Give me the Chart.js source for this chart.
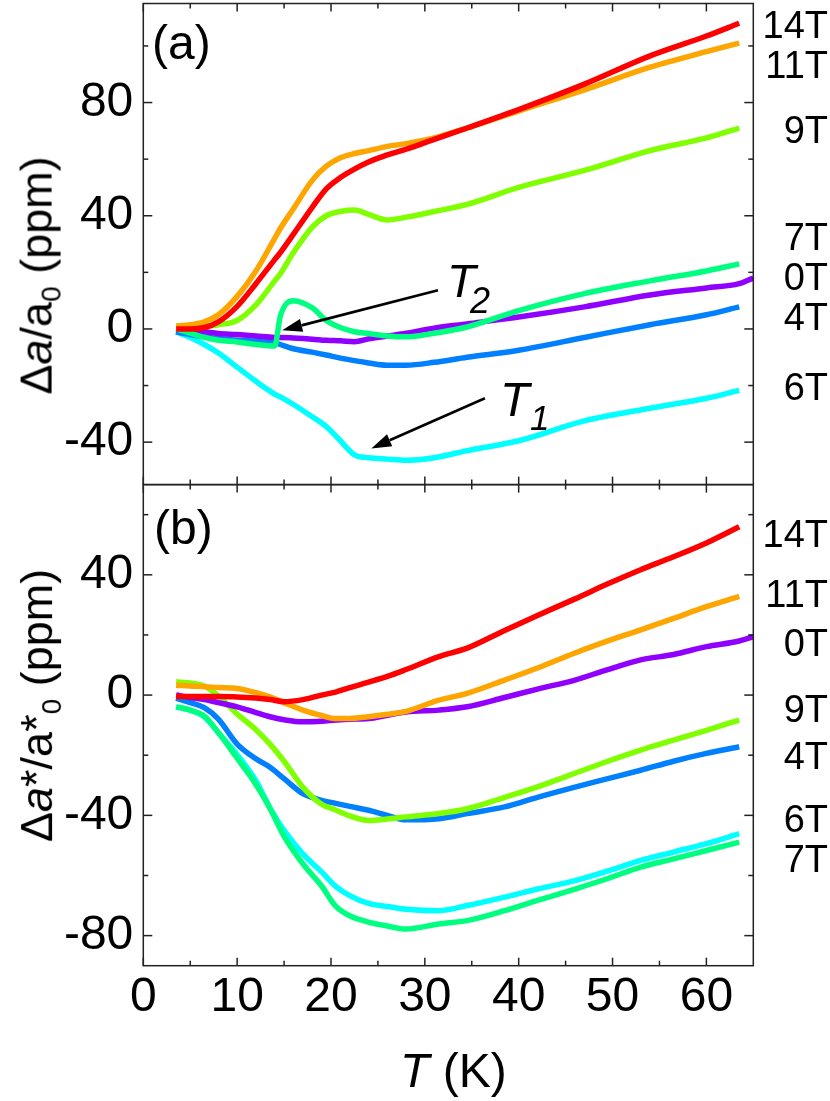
<!DOCTYPE html>
<html><head><meta charset="utf-8">
<script src="https://cdn.jsdelivr.net/npm/chart.js@4.4.0/dist/chart.umd.min.js"></script>
<style>
html,body{margin:0;padding:0;background:#fff;}
#wrap{position:relative;width:830px;height:1101px;overflow:hidden;font-family:'Liberation Sans',Arial,sans-serif;color:#000;}
#c{position:absolute;left:0;top:0;}
.t{position:absolute;white-space:nowrap;line-height:1;}
</style></head><body>
<div id="wrap"><canvas id="c" width="830" height="1101"></canvas></div>
<script>
// ---------- data: panel (a)  Δa/a0 (ppm) vs T (K) ----------
const tA  = [3.5, 5, 6.5, 8, 10, 12, 14, 14.6, 16, 18, 19.5, 21, 22.5, 24, 26, 28, 31, 34.5, 40, 47, 54, 60, 63.5, 65];
const a14 = [0, 0, 0.5, 2.5, 8, 16, 24.5, 27, 33.5, 43, 49.5, 53.5, 56.5, 59, 61.5, 63.5, 67, 71, 77.5, 86.5, 96.5, 103.5, 108, null];
const a11 = [1, 1.5, 2.5, 5, 11.5, 20.5, 32, 35.5, 42.5, 52.5, 57.5, 60.5, 62, 63, 64.5, 65.5, 67.5, 71, 77, 84.5, 92.5, 98, 101, null];
const a9  = [1, 1, 1, 1.5, 3, 8.5, 17, 19.5, 27, 36, 40, 41.5, 42, 40.5, 38.5, 39.5, 41.5, 44, 50, 56, 63, 67.5, 71, null];
const a7  = [0, -1.5, -3, -4, -4.6, -5.5, -6, 4.5, 10, 7.5, 3, 0.5, -1, -1.6, -2.5, -2.8, -1.5, 0.7, 6.5, 12.5, 17, 20.5, 23, null];
const a0  = [0, -0.5, -1, -1.6, -2, -2.5, -3, -3, -3.2, -3.6, -4, -4.2, -4.5, -3.5, -2.5, -1.5, 0.3, 1.8, 4.2, 7.8, 12, 14.5, 16, 18];
const a4  = [-1, -2, -2.8, -3.4, -4, -4.3, -4.8, -5.5, -7, -8.2, -9.2, -10.3, -11.2, -12, -12.8, -12.8, -11.8, -10, -7.5, -3, 1.5, 5, 7.8, null];
const a6  = [-1, -3, -5.5, -8.5, -13.5, -18.5, -23, -24, -26.7, -31, -34.5, -39.5, -44.5, -45.5, -46, -46.4, -45.5, -43, -39.5, -32.5, -28, -24.5, -21.7, null];

// ---------- data: panel (b)  Δa*/a*0 (ppm) vs T (K) ----------
const tB  = [3.5, 5, 6.5, 8, 10, 12, 13.5, 15, 17, 19, 20.5, 22, 24, 26, 28, 31.5, 34.5, 38.5, 42, 46, 49.5, 53, 56.5, 60, 63.5, 65];
const b14 = [-0.5, -0.5, -0.5, -0.5, -0.6, -1, -1.5, -2.2, -1.5, 0, 1, 2.5, 4.3, 6.2, 8.5, 12.8, 15.6, 21.5, 26.5, 32, 37, 41.7, 46, 50.6, 56, null];
const b11 = [3.3, 3, 2.8, 2.5, 2.2, 0.8, -0.6, -2.5, -5, -6.8, -7.8, -7.8, -7.2, -6.4, -5.4, -1.7, 0.6, 5, 9, 14, 18, 21.7, 25.5, 29.4, 32.8, null];
const b0  = [0, -0.8, -1.5, -2.5, -3.9, -5.8, -7.2, -8.2, -8.9, -8.7, -8.3, -8, -7.8, -6.7, -5.6, -5, -3.9, -0.8, 2, 5, 8.5, 11.7, 13.5, 16.1, 18, 19.4];
const b9  = [4.4, 4, 3, -0.3, -6.3, -11.5, -16.3, -22, -30.6, -36.3, -38.2, -40.2, -41.7, -41.2, -40.5, -39.4, -37.8, -34, -30.5, -26, -22, -18.3, -15, -11.7, -8.3, null];
const b4  = [-1, -2.5, -4.2, -8, -16.3, -21.2, -24, -27.8, -32.8, -35, -36, -37, -38.3, -40, -41.5, -41.1, -39.4, -37.2, -34, -30.6, -27.8, -25, -22, -19.4, -17.2, null];
const b6  = [-3.9, -5, -7.2, -12.5, -19.8, -28.5, -37.5, -45, -52.8, -58.8, -63.6, -66.7, -69.3, -70.3, -71.2, -71.7, -70, -67.2, -64.5, -61.7, -58.5, -55, -52.2, -49.4, -46.1, null];
const b7  = [-3.9, -5, -7, -12.5, -21, -29.7, -37.7, -47, -56.1, -63.5, -70.2, -73.4, -75.5, -76.8, -77.8, -76.1, -75, -71.7, -68.3, -64.5, -61, -57.2, -54.5, -51.7, -48.9, null];

// ---------- ticks ----------
const xTickValues  = [0, 10, 20, 30, 40, 50, 60];
const yaTickValues = [-40, 0, 40, 80];
const ybTickValues = [-80, -40, 0, 40];
const xMinorValues  = [5, 15, 25, 35, 45, 55];
const yaMinorValues = [-20, 20, 60, 100];
const ybMinorValues = [-60, -20, 20, 60];

// labels of the field series (draw order: first = on top)
const fieldsA = ['14T', '11T', '9T', '7T', '0T', '4T', '6T'];
const fieldsB = ['14T', '11T', '0T', '9T', '4T', '7T', '6T'];
const seriesA = {'14T': a14, '11T': a11, '9T': a9, '7T': a7, '0T': a0, '4T': a4, '6T': a6};
const seriesB = {'14T': b14, '11T': b11, '9T': b9, '7T': b7, '0T': b0, '4T': b4, '6T': b6};

// annotation arrows (data units: [T, ppm]) on panel (a)
const arrowT2 = {from: [31.4, 13.7], to: [14.8, -0.5]};
const arrowT1 = {from: [36.4, -24.5], to: [24.3, -42.2]};

// ---------- styles ----------
const FONT = "'Liberation Sans', Arial, sans-serif";
const fieldColor = {'0T': '#8f00ff', '4T': '#0080ff', '6T': '#00ffff', '7T': '#00ff80', '9T': '#80ff00', '11T': '#ffa500', '14T': '#ff0000'};

function makeSets(fields, temps, series, axisId) {
  return fields.map(f => ({
    label: f,
    data: temps.map((t, i) => ({x: t, y: series[f][i]})),
    yAxisID: axisId,
    borderColor: fieldColor[f],
    backgroundColor: fieldColor[f],
    borderWidth: 5.5,
    pointRadius: 0,
    cubicInterpolationMode: 'monotone',
    fill: false,
    spanGaps: false
  }));
}

const framePlugin = {
  id: 'frames',
  afterDatasetsDraw(chart) {
    const ctx = chart.ctx;
    const xs = chart.scales.x;
    const L = chart.chartArea.left, R = chart.chartArea.right;
    ctx.save();
    ctx.strokeStyle = '#222';
    ctx.lineWidth = 1.5;
    const seg = (x1, y1, x2, y2) => { ctx.beginPath(); ctx.moveTo(x1, y1); ctx.lineTo(x2, y2); ctx.stroke(); };
    [['ya', yaTickValues, yaMinorValues], ['yb', ybTickValues, ybMinorValues]].forEach(([id, major, minor]) => {
      const ys = chart.scales[id];
      const T = ys.top, B = ys.bottom;
      ctx.strokeRect(L, T, R - L, B - T);
      xTickValues.forEach(v => { const p = xs.getPixelForValue(v); seg(p, B, p, B - 8); seg(p, T, p, T + 8); });
      xMinorValues.forEach(v => { const p = xs.getPixelForValue(v); seg(p, B, p, B - 5); seg(p, T, p, T + 5); });
      major.forEach(v => { const p = ys.getPixelForValue(v); seg(L, p, L + 9, p); seg(R, p, R - 9, p); });
      minor.forEach(v => { const p = ys.getPixelForValue(v); seg(L, p, L + 5, p); seg(R, p, R - 5, p); });
    });
    // arrows
    const ya = chart.scales.ya;
    [arrowT2, arrowT1].forEach(a => {
      const x1 = xs.getPixelForValue(a.from[0]), y1 = ya.getPixelForValue(a.from[1]);
      const x2 = xs.getPixelForValue(a.to[0]), y2 = ya.getPixelForValue(a.to[1]);
      const ang = Math.atan2(y2 - y1, x2 - x1);
      const hl = 20, hw = 6.5;
      const bx = x2 - hl * Math.cos(ang), by = y2 - hl * Math.sin(ang);
      ctx.strokeStyle = '#000'; ctx.fillStyle = '#000'; ctx.lineWidth = 2.6;
      seg(x1, y1, bx, by);
      ctx.beginPath();
      ctx.moveTo(x2, y2);
      ctx.lineTo(bx + hw * Math.sin(ang), by - hw * Math.cos(ang));
      ctx.lineTo(bx - hw * Math.sin(ang), by + hw * Math.cos(ang));
      ctx.closePath(); ctx.fill();
    });
    ctx.restore();
  }
};

const yCommon = {
  type: 'linear', position: 'left', stack: 'v', stackWeight: 1,
  ticks: {font: {family: FONT, size: 48}, color: '#000', padding: 10},
  grid: {display: false, drawTicks: false},
  border: {display: false},
  afterFit: s => { s.width = 143.3; s.paddingTop = 0; s.paddingBottom = 0; }
};

new Chart(document.getElementById('c'), {
  type: 'line',
  data: {datasets: makeSets(fieldsA, tA, seriesA, 'ya').concat(makeSets(fieldsB, tB, seriesB, 'yb'))},
  options: {
    responsive: false, animation: false, events: [],
    layout: {autoPadding: false, padding: {left: 0, right: 76.7, top: 3.5, bottom: 0}},
    plugins: {legend: {display: false}, tooltip: {enabled: false}},
    scales: {
      x: {
        type: 'linear', position: 'bottom', min: 0, max: 65,
        afterBuildTicks: s => { s.ticks = xTickValues.map(v => ({value: v})); },
        ticks: {font: {family: FONT, size: 48}, color: '#000', padding: 3, maxRotation: 0, autoSkip: false},
        grid: {display: false, drawTicks: false},
        border: {display: false},
        afterFit: s => { s.height = 135.3; s.paddingLeft = 0; s.paddingRight = 0; }
      },
      yb: Object.assign({}, yCommon, {min: -90, max: 70,
        afterBuildTicks: s => { s.ticks = ybTickValues.map(v => ({value: v})); }}),
      ya: Object.assign({}, yCommon, {min: -55, max: 115,
        afterBuildTicks: s => { s.ticks = yaTickValues.map(v => ({value: v})); }})
    }
  },
  plugins: [framePlugin]
});

// ---------- text overlays ----------
const wrap = document.getElementById('wrap');
function addText(html, x, baseline, size, align) {
  const d = document.createElement('div');
  d.className = 't';
  d.style.fontSize = size + 'px';
  d.innerHTML = html;
  d.style.top = (baseline - 0.8465 * size) + 'px';
  if (align === 'right') d.style.right = (830 - x) + 'px'; else d.style.left = x + 'px';
  wrap.appendChild(d);
  return d;
}
function addVertical(html, cx, cy, size) {
  const d = document.createElement('div');
  d.className = 't';
  d.style.fontSize = size + 'px';
  d.innerHTML = html;
  wrap.appendChild(d);
  const w = d.offsetWidth;
  d.style.left = (cx - w / 2) + 'px';
  d.style.top = (cy - size / 2) + 'px';
  d.style.transform = 'rotate(-90deg)';
  d.style.transformOrigin = '50% 50%';
}
const SUB = 'font-size:0.62em;position:relative;top:0.32em;';
addVertical('Δ<i>a</i>/a<span style="' + SUB + '">0</span> (ppm)', 36.4, 275, 45);
addVertical('Δ<i>a</i>*/a*<span style="' + SUB + '">0</span> (ppm)', 36.4, 705, 45);
addText('<i>T</i> (K)', 400, 1088, 48);
addText('(a)', 152, 60, 48);
addText('(b)', 154, 545, 48);
addText('<i>T</i>', 447, 296.7, 47);
addText('<i>2</i>', 470, 313.3, 36);
addText('<i>T</i>', 500, 416.7, 48);
addText('<i>1</i>', 530, 430, 35);
const labelsA = [['14T', 38.3], ['11T', 78.3], ['9T', 143.3], ['7T', 250], ['0T', 290], ['4T', 330], ['6T', 400]];
const labelsB = [['14T', 546.7], ['11T', 606.7], ['0T', 655.7], ['9T', 722.3], ['4T', 769], ['6T', 832.3], ['7T', 872.3]];
labelsA.concat(labelsB).forEach(([txt, base]) => addText(txt, 828, base, 38, 'right'));
</script>
</body></html>
